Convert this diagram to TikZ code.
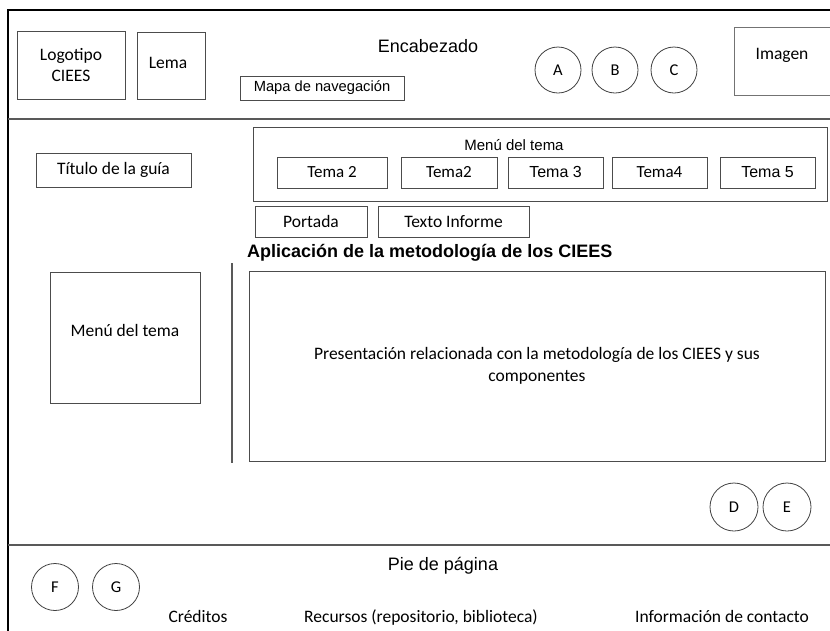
\documentclass[tikz,border=0pt]{standalone}
\usepackage{fontspec}
\setmainfont{Carlito}
\newfontfamily\arialf{Liberation Sans}
\begin{document}
\begin{tikzpicture}[x=1pt,y=-1pt,
  box/.style={draw=black!70,line width=0.8pt,inner sep=0pt,font=\fontsize{17.5}{21}\selectfont},
  tbox/.style={box,minimum height=31pt,text height=12pt,text depth=3pt,font=\fontsize{17}{20}\selectfont},
  circ/.style={circle,draw=black!75,line width=0.8pt,minimum size=46pt,inner sep=0pt,font=\fontsize{16.5}{19}\selectfont},
  lbl/.style={inner sep=0pt,font=\fontsize{17.5}{21}\selectfont},
  flbl/.style={lbl,anchor=base},
  albl/.style={inner sep=0pt,font=\arialf\fontsize{18}{21}\selectfont},
  sep/.style={line width=1.6pt,draw=black!65}]
\useasboundingbox (0,0) rectangle (830,630);
\clip (0,0) rectangle (830,630);
% frame
\coordinate (tl) at (8,10);
\coordinate (tr) at (832,10);
\coordinate (bl) at (8,632);
\draw[line width=1.8pt] (tr) -- (tl) -- (bl);
\coordinate (s1a) at (8,119); \coordinate (s1b) at (832,119);
\coordinate (s2a) at (8,545); \coordinate (s2b) at (832,545);
\draw[sep] (s1a) -- (s1b);
\draw[sep] (s2a) -- (s2b);
% header
\node[box,minimum width=108pt,minimum height=68pt,align=center] (logo) at (71,65) {Logotipo\\CIEES};
\node[box,minimum width=68pt,minimum height=67pt] (lema) at (171,65.5) {};
\node[lbl] (lematxt) at (168,63) {Lema};
\node[albl] (enc) at (428,46) {Encabezado};
\node[box,minimum width=164pt,minimum height=24pt,font=\arialf\fontsize{14.7}{17}\selectfont] (mapa) at (322,88) {Mapa de navegación};
\node[circ] (A) at (558,70) {A};
\node[circ] (B) at (615,70) {B};
\node[circ] (C) at (674,70) {C};
\node[box,draw=black!55,minimum width=100pt,minimum height=68pt] (img) at (784,61) {};
\node[lbl] (imgtxt) at (782,55) {Imagen};
% middle
\node[box,minimum width=155pt,minimum height=34pt] (titulo) at (113.5,170) {Título de la guía};
\node[box,minimum width=574pt,minimum height=74pt] (menu) at (540,164.5) {};
\node[albl,font=\arialf\fontsize{15}{18}\selectfont] (menutxt) at (514,145) {Menú del tema};
\node[tbox,minimum width=110pt] (t1) at (332,172.5) {Tema 2};
\node[tbox,minimum width=96pt] (t2) at (449,172.5) {Tema2};
\node[tbox,minimum width=95pt,font=\arialf\fontsize{16}{19}\selectfont] (t3) at (555.5,172.5) {Tema 3};
\node[tbox,minimum width=95pt] (t4) at (659.5,172.5) {Tema4};
\node[tbox,minimum width=95pt,font=\arialf\fontsize{16}{19}\selectfont] (t5) at (767.5,172.5) {Tema 5};
\node[box,minimum width=112pt,minimum height=31pt] (portada) at (311,221.5) {Portada};
\node[box,minimum width=151pt,minimum height=31pt] (texto) at (453.5,221.5) {Texto Informe};
\node[inner sep=0pt,anchor=west,font=\arialf\bfseries\fontsize{18}{21}\selectfont] (aplic) at (247,253) {Aplicación de la metodología de los CIEES};
\coordinate (va) at (232,263);
\coordinate (vb) at (232,463);
\draw[line width=1.2pt,draw=black!65] (va) -- (vb);
\node[box,minimum width=150pt,minimum height=131pt] (menul) at (125,337.5) {};
\node[lbl] (menultxt) at (125,330) {Menú del tema};
\node[box,minimum width=576pt,minimum height=190pt,align=center,font=\fontsize{17.5}{22.5}\selectfont] (pres) at (537,366) {Presentación relacionada con la metodología de los CIEES y sus\\componentes};
\node[circ,minimum size=48pt] (D) at (734,507) {D};
\node[circ,minimum size=48pt] (E) at (787,507) {E};
% footer
\node[albl] (pie) at (443,566) {Pie de página};
\node[circ,minimum size=47pt] (F) at (55,587) {F};
\node[circ,minimum size=47pt] (G) at (116,587) {G};
\node[flbl] (cred) at (198,622) {Créditos};
\node[flbl] (rec) at (421,622) {Recursos (repositorio, biblioteca)};
\node[flbl] (info) at (722,622) {Información de contacto};
\end{tikzpicture}
\end{document}
